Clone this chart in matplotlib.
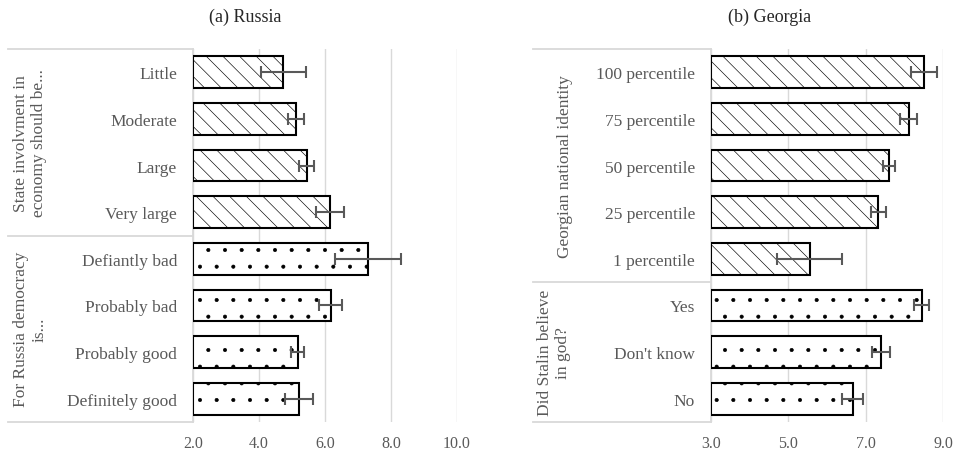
import numpy as np
import matplotlib
matplotlib.use("Agg")
import matplotlib.pyplot as plt
import matplotlib.transforms as mtransforms

plt.rcParams["font.family"] = ["Liberation Serif", "DejaVu Serif"]
plt.rcParams["hatch.linewidth"] = 0.45

# Data (top to bottom)
ru_labels = ["Little", "Moderate", "Large", "Very large",
             "Defiantly bad", "Probably bad", "Probably good", "Definitely good"]
ru_means = [4.73, 5.12, 5.45, 6.15, 7.29, 6.18, 5.17, 5.21]
ru_err = [0.68, 0.25, 0.23, 0.43, 1.00, 0.35, 0.20, 0.42]
ru_groups = ["State involvment in\neconomy should be...", "For Russia democracy\nis..."]
ru_group_sizes = [4, 4]

ge_labels = ["100 percentile", "75 percentile", "50 percentile", "25 percentile",
             "1 percentile", "Yes", "Don't know", "No"]
ge_means = [8.50, 8.11, 7.61, 7.33, 5.55, 8.45, 7.40, 6.66]
ge_err = [0.34, 0.22, 0.15, 0.20, 0.84, 0.20, 0.24, 0.28]
ge_groups = ["Georgian national identity", "Did Stalin believe\nin god?"]
ge_group_sizes = [5, 3]

hatches = ["\\\\", "."]
text_col = "#595959"
grid_col = "#d9d9d9"

fig = plt.figure(figsize=(9.56, 4.56), dpi=100)
ax1 = fig.add_axes([193 / 956, 1 - 423 / 456, 264 / 956, 373 / 456])
ax2 = fig.add_axes([711 / 956, 1 - 423 / 456, 232 / 956, 373 / 456])


def draw_panel(ax, labels, means, err, groups, sizes, xlim, ticks, title, title_x,
               box_left, group_x):
    y = np.arange(len(labels))
    group_idx = np.repeat(np.arange(len(sizes)), sizes)
    for gi in range(len(sizes)):
        m = group_idx == gi
        ax.barh(y[m], np.array(means)[m] - xlim[0], left=xlim[0], height=0.68,
                color="white", edgecolor="black", linewidth=1.5,
                hatch=hatches[gi], zorder=3)
    ax.errorbar(means, y, xerr=err, fmt="none", ecolor=text_col, elinewidth=1.5,
                capsize=4, capthick=1.5, zorder=4)
    ax.set_xlim(*xlim)
    ax.set_ylim(len(labels) - 0.5, -0.5)
    ax.set_xticks(ticks)
    ax.set_xticklabels([f"{t:.1f}" for t in ticks])
    ax.set_yticks(y)
    ax.set_yticklabels(labels)
    ax.tick_params(axis="y", length=0, pad=11.5, labelsize=12.5, labelcolor=text_col)
    ax.tick_params(axis="x", length=0, pad=9, labelsize=11.5, labelcolor=text_col)
    for s in ax.spines.values():
        s.set_visible(False)
    ax.grid(axis="x", color=grid_col, linewidth=1, zorder=0)
    ax.set_axisbelow(True)

    # multi-level category box
    tr = mtransforms.blended_transform_factory(ax.transAxes, ax.transData)
    bounds = [-0.5] + list(np.cumsum(sizes) - 0.5)
    for b in bounds:
        ax.plot([box_left, 0], [b, b], color=grid_col, lw=1.3, transform=tr,
                clip_on=False, zorder=1)
    ax.plot([0, 0], [bounds[0], bounds[-1]], color=grid_col, lw=1.3, transform=tr,
            clip_on=False, zorder=1)
    for gi, g in enumerate(groups):
        ax.text(group_x[gi], (bounds[gi] + bounds[gi + 1]) / 2, g, rotation=90,
                ha="center", va="center", ma="center", fontsize=12.5,
                color=text_col, transform=tr, linespacing=1.2)
    fig.text(title_x, 1 - 17 / 456, title, ha="center", va="center", fontsize=13,
             color="#262626")


draw_panel(ax1, ru_labels, ru_means, ru_err, ru_groups, ru_group_sizes,
           (2, 10), [2, 4, 6, 8, 10], "(a) Russia", 245 / 956,
           (8 - 193) / 264, [(30 - 193) / 264, (30 - 193) / 264])
draw_panel(ax2, ge_labels, ge_means, ge_err, ge_groups, ge_group_sizes,
           (3, 9), [3, 5, 7, 9], "(b) Georgia", 770 / 956,
           (533 - 711) / 232, [(565 - 711) / 232, (554 - 711) / 232])

fig.savefig("out.png", dpi=100)
